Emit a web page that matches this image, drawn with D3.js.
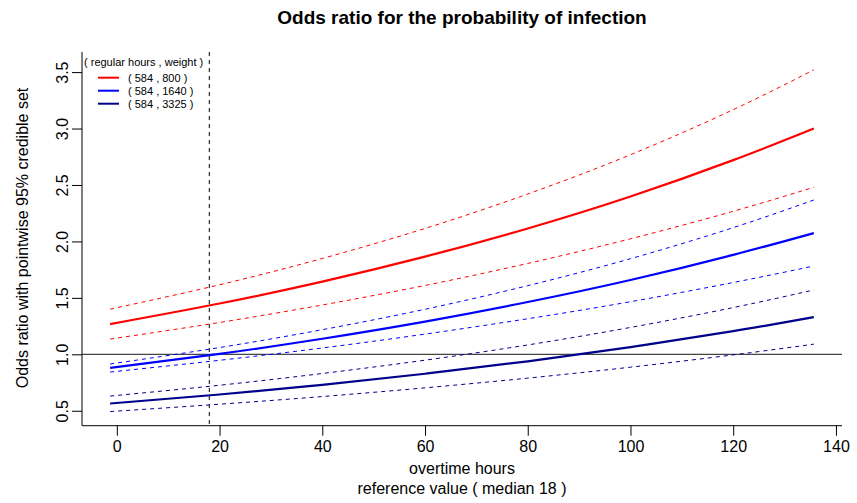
<!DOCTYPE html>
<html>
<head>
<meta charset="utf-8">
<script src="https://cdn.jsdelivr.net/npm/d3@7"></script>
<style>
  body { margin: 0; background: #fff; }
  svg text { font-family: "Liberation Sans", Arial, Helvetica, sans-serif; fill: #000; }
</style>
</head>
<body>
<script>
var hours = [-1.3, 20, 40, 60, 80, 100, 120, 135.7];

// weight 800 (red)
var w800    = [1.268, 1.450, 1.644, 1.865, 2.115, 2.398, 2.720, 3.0];
var w800Hi  = [1.40, 1.616, 1.849, 2.115, 2.420, 2.768, 3.167, 3.52];
var w800Lo  = [1.135, 1.282, 1.437, 1.610, 1.805, 2.023, 2.267, 2.48];
// weight 1640 (blue)
var w1640   = [0.879, 1.004, 1.138, 1.290, 1.463, 1.658, 1.881, 2.074];
var w1640Hi = [0.914, 1.060, 1.218, 1.399, 1.608, 1.847, 2.122, 2.367];
var w1640Lo = [0.843, 0.947, 1.056, 1.179, 1.315, 1.466, 1.636, 1.782];
// weight 3325 (dark blue)
var w3325   = [0.564, 0.644, 0.730, 0.828, 0.938, 1.064, 1.205, 1.33];
var w3325Hi = [0.63, 0.726, 0.830, 0.948, 1.083, 1.238, 1.414, 1.57];
var w3325Lo = [0.493, 0.558, 0.626, 0.703, 0.789, 0.886, 0.995, 1.09];

var legendLabels = ["( 584 , 800 )", "( 584 , 1640 )", "( 584 , 3325 )"];
var colors = ["#ff0000", "#0000ff", "#00008b"];
var xTicks = [0, 20, 40, 60, 80, 100, 120, 140];
var yTicks = [0.5, 1.0, 1.5, 2.0, 2.5, 3.0, 3.5];
var refHours = 18;

var width = 857, height = 503;

var svg = d3.select("body").append("svg")
    .attr("width", width)
    .attr("height", height);

var x = d3.scaleLinear().domain([-6.78, 141.18]).range([82, 842]);
var y = d3.scaleLinear().domain([0.3676, 3.678]).range([425.7, 52]);

// title
svg.append("text")
    .attr("x", 462).attr("y", 24)
    .attr("text-anchor", "middle")
    .style("font-size", "19px")
    .style("font-weight", "bold")
    .text("Odds ratio for the probability of infection");

// axes (L-shaped box)
var xAxis = svg.append("g")
    .attr("transform", "translate(0,425.7)")
    .call(d3.axisBottom(x).tickValues(xTicks).tickSize(10).tickPadding(5).tickFormat(d3.format("d")));
xAxis.select(".domain").attr("d", "M82,0H842");
xAxis.selectAll("text").style("font-size", "16px");

var yAxis = svg.append("g")
    .attr("transform", "translate(82,0)")
    .call(d3.axisLeft(y).tickValues(yTicks).tickSize(10).tickFormat(d3.format(".1f")));
yAxis.select(".domain").attr("d", "M0,52V425.7");
yAxis.selectAll("text")
    .attr("x", null).attr("dy", null)
    .attr("transform", "translate(-14,0) rotate(-90)")
    .attr("text-anchor", "middle")
    .style("font-size", "16px");

svg.selectAll(".domain, .tick line").attr("stroke", "#000");

// axis titles
svg.append("text")
    .attr("transform", "translate(28,238) rotate(-90)")
    .attr("text-anchor", "middle")
    .style("font-size", "16px")
    .text("Odds ratio with pointwise 95% credible set");
svg.append("text")
    .attr("x", 462).attr("y", 474)
    .attr("text-anchor", "middle")
    .style("font-size", "16px")
    .text("overtime hours");
svg.append("text")
    .attr("x", 462).attr("y", 494)
    .attr("text-anchor", "middle")
    .style("font-size", "16px")
    .text("reference value ( median 18 )");

// reference lines
svg.append("line")
    .attr("x1", 82).attr("x2", 842)
    .attr("y1", y(1)).attr("y2", y(1))
    .attr("stroke", "#444").attr("stroke-width", 1.2);
svg.append("line")
    .attr("x1", x(refHours)).attr("x2", x(refHours))
    .attr("y1", 52).attr("y2", 425.7)
    .attr("stroke", "#000").attr("stroke-width", 1)
    .attr("stroke-dasharray", "4,4");

var line = d3.line()
    .x(function(d){ return x(d[0]); })
    .y(function(d){ return y(d[1]); })
    .curve(d3.curveNatural);

var series = [
    {vals: w800Hi, col: 0, dashed: true},
    {vals: w800Lo, col: 0, dashed: true},
    {vals: w1640Hi, col: 1, dashed: true},
    {vals: w1640Lo, col: 1, dashed: true},
    {vals: w3325Hi, col: 2, dashed: true},
    {vals: w3325Lo, col: 2, dashed: true},
    {vals: w800, col: 0, dashed: false},
    {vals: w1640, col: 1, dashed: false},
    {vals: w3325, col: 2, dashed: false}
];

svg.selectAll(".curve")
    .data(series)
    .enter()
    .append("path")
    .attr("class", "curve")
    .attr("fill", "none")
    .attr("stroke", function(d){ return colors[d.col]; })
    .attr("stroke-width", function(d){ return d.dashed ? 1 : 2.2; })
    .attr("stroke-dasharray", function(d){ return d.dashed ? "4,4" : null; })
    .attr("d", function(d){
        return line(hours.map(function(h, i){ return [h, d.vals[i]]; }));
    });

// legend
var legend = svg.append("g");
legend.append("text")
    .attr("x", 84).attr("y", 66)
    .style("font-size", "11px")
    .text("( regular hours , weight )");
var items = legend.selectAll(".item")
    .data(legendLabels)
    .enter()
    .append("g")
    .attr("transform", function(d, i){ return "translate(0," + (77.7 + i * 13) + ")"; });
items.append("line")
    .attr("x1", 98).attr("x2", 119)
    .attr("stroke", function(d, i){ return colors[i]; })
    .attr("stroke-width", 2);
items.append("text")
    .attr("x", 128).attr("y", 4)
    .style("font-size", "11px")
    .text(function(d){ return d; });
</script>
</body>
</html>
